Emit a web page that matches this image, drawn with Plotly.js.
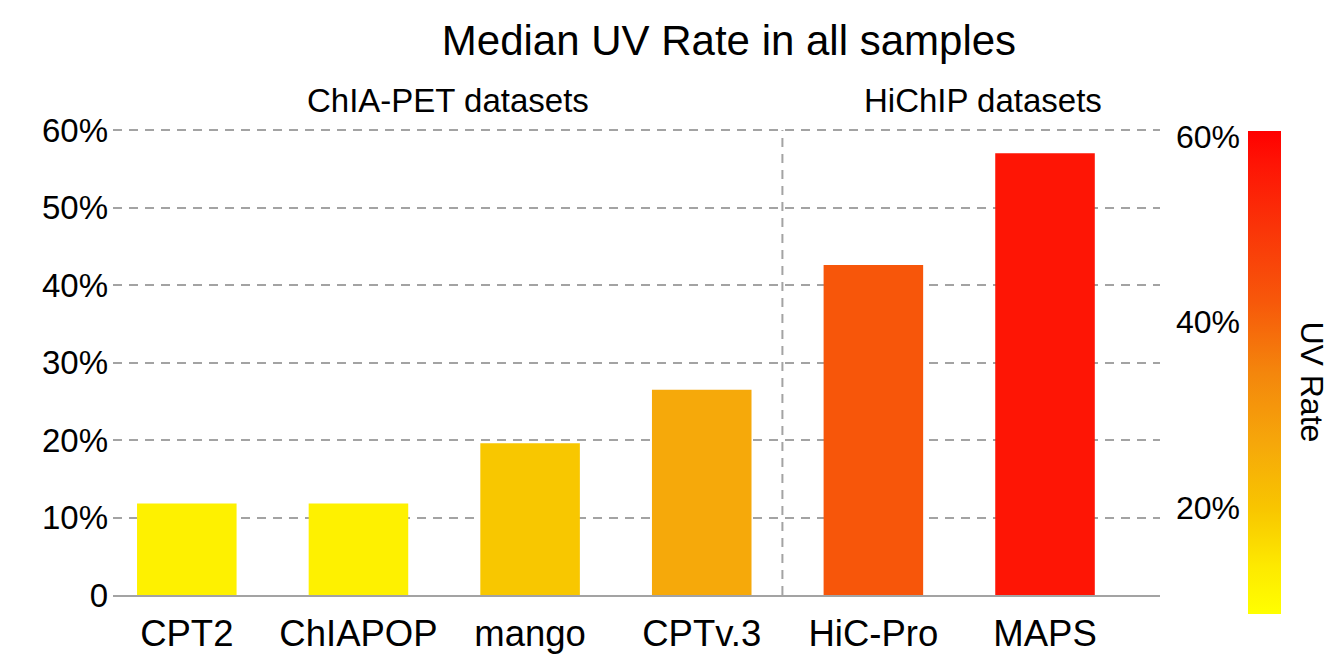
<!DOCTYPE html>
<html>
<head>
<meta charset="utf-8">
<script src="https://cdn.plot.ly/plotly-3.0.1.min.js"></script>
<style>
  html, body { margin: 0; padding: 0; background: #fff; }
  #uv_rate { width: 1341px; height: 654px; }
</style>
</head>
<body>
<div id="uv_rate"></div>
<script>
// Median UV rate per pipeline, in percent
const tools = ['CPT2', 'ChIAPOP', 'mango', 'CPTv.3', 'HiC-Pro', 'MAPS'];
const medianUV = [11.8, 11.8, 19.6, 26.5, 42.6, 57.0];

const yTickVals = [0, 10, 20, 30, 40, 50, 60];
const yTickText = ['0', '10%', '20%', '30%', '40%', '50%', '60%'];
const cbTickVals = [20, 40, 60];
const cbTickText = ['20%', '40%', '60%'];

// colour range of the scale bar
const cMin = 8.5;
const cMax = 60.6;

const FONT = '"Liberation Sans", Arial, Helvetica, sans-serif';
const GREY = '#a3a3a3';

// plot area is 487px tall; bars start 19px above its bottom, the scale bar
// stops 4px short of its top
const Y_DOMAIN_LO = 19 / 487;
const CB_LEN = 483 / 487;
const cbPerFrac = (cMax - cMin) / CB_LEN;

const uvScale = [
  [0.00, '#ffff00'],
  [0.10, '#fde900'],
  [0.22, '#f8c500'],
  [0.35, '#f6a80a'],
  [0.50, '#f4860c'],
  [0.65, '#f7570a'],
  [0.80, '#fa3408'],
  [0.93, '#fe1505'],
  [1.00, '#ff0000']
];

const traces = [
  {
    type: 'bar',
    x: tools,
    y: medianUV,
    marker: {
      color: medianUV,
      colorscale: uvScale,
      cmin: cMin,
      cmax: cMax,
      line: { width: 0 },
      showscale: true,
      colorbar: {
        x: 0.9676, xanchor: 'left',
        y: 0, yanchor: 'bottom',
        len: CB_LEN, lenmode: 'fraction',
        thickness: 33,
        xpad: 0, ypad: 0,
        outlinewidth: 0,
        ticks: '',
        showticklabels: false
      }
    },
    hoverinfo: 'x+y',
    showlegend: false
  },
  // empty trace so the scale-label axis gets drawn
  { type: 'scatter', x: [], y: [], yaxis: 'y2', hoverinfo: 'skip', showlegend: false }
];

const layout = {
  width: 1341,
  height: 654,
  margin: { l: 113, r: 55, t: 127, b: 40, pad: 0 },
  paper_bgcolor: '#fff',
  plot_bgcolor: '#fff',
  font: { family: FONT, color: '#000' },
  title: {
    text: 'Median UV Rate in all samples',
    font: { family: FONT, size: 42, color: '#000' },
    x: 0.5436, xanchor: 'center',
    y: 0.939, yanchor: 'middle'
  },
  bargap: 0.42,
  xaxis: {
    domain: [0, 0.8926],
    range: [-0.43, 5.67],
    type: 'category',
    showline: true,
    linecolor: GREY,
    linewidth: 2,
    showgrid: false,
    zeroline: false,
    ticks: '',
    ticklabelstandoff: 5,
    tickfont: { family: FONT, size: 36.5, color: '#000' }
  },
  yaxis: {
    domain: [Y_DOMAIN_LO, 1],
    range: [0, 60.4],
    tickvals: yTickVals,
    ticktext: yTickText,
    showline: false,
    zeroline: false,
    showgrid: true,
    gridcolor: GREY,
    gridwidth: 2,
    griddash: '9px,7px',
    ticks: '',
    ticklabelstandoff: 4,
    tickfont: { family: FONT, size: 33, color: '#000' }
  },
  // labels for the scale bar, on the same pixel scale as the colorbar
  yaxis2: {
    overlaying: 'y',
    range: [cMin + cbPerFrac * Y_DOMAIN_LO, cMin + cbPerFrac],
    anchor: 'free',
    position: 0.9676,
    side: 'left',
    tickvals: cbTickVals,
    ticktext: cbTickText,
    showline: false,
    showgrid: false,
    zeroline: false,
    ticks: '',
    ticklabelstandoff: 8,
    tickfont: { family: FONT, size: 32, color: '#000' }
  },
  shapes: [
    {
      type: 'line', xref: 'x', yref: 'y',
      x0: 3.47, x1: 3.47, y0: 0, y1: 60,
      line: { color: GREY, width: 2, dash: '9px,7px' }
    }
  ],
  annotations: [
    {
      text: 'ChIA-PET datasets', xref: 'x', yref: 'paper',
      x: 1.52, y: 1.0554, xanchor: 'center', yanchor: 'middle',
      showarrow: false, font: { family: FONT, size: 33, color: '#000' }
    },
    {
      text: 'HiChIP datasets', xref: 'x', yref: 'paper',
      x: 4.64, y: 1.0554, xanchor: 'center', yanchor: 'middle',
      showarrow: false, font: { family: FONT, size: 33, color: '#000' }
    },
    {
      text: 'UV Rate', xref: 'paper', yref: 'paper',
      x: 1.022, y: 0.476, xanchor: 'center', yanchor: 'middle',
      textangle: 90,
      showarrow: false, font: { family: FONT, size: 32, color: '#000' }
    }
  ]
};

Plotly.newPlot('uv_rate', traces, layout, { displayModeBar: false, staticPlot: true });
</script>
</body>
</html>
